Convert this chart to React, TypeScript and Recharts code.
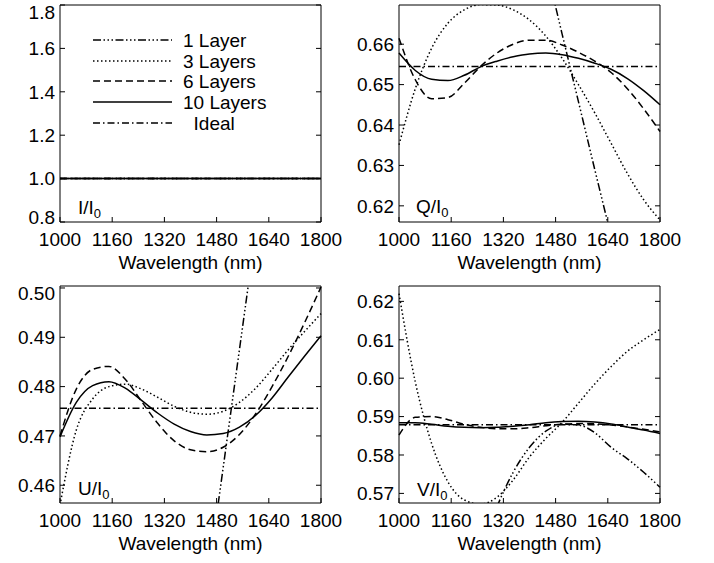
import { LineChart, Line, XAxis, YAxis } from "recharts";

// wavelength grid (nm)
const wavelengths = [1000, 1050, 1100, 1150, 1200, 1250, 1300, 1350, 1400, 1450, 1500, 1550, 1600, 1650, 1700, 1750, 1800];
const xTicks = [1000, 1160, 1320, 1480, 1640, 1800];

// I/I0 - every design sits on 1.0
const iAll = [1, 1, 1, 1, 1, 1, 1, 1, 1, 1, 1, 1, 1, 1, 1, 1, 1];
const iTicks = [0.8, 1.0, 1.2, 1.4, 1.6, 1.8];

// Q/I0
const q1 = [null, null, null, null, null, null, null, null, 0.696, 0.6795, 0.6625, 0.6458, 0.629, 0.6125, 0.596, null, null];
const q3 = [0.6351, 0.649, 0.659, 0.6652, 0.6685, 0.6698, 0.6697, 0.6685, 0.666, 0.662, 0.6565, 0.65, 0.643, 0.6355, 0.628, 0.6215, 0.6165];
const q6 = [0.6615, 0.6512, 0.6465, 0.6468, 0.6503, 0.6545, 0.6578, 0.66, 0.661, 0.661, 0.6598, 0.658, 0.6558, 0.653, 0.649, 0.644, 0.6384];
const q10 = [0.6578, 0.6535, 0.6513, 0.651, 0.6523, 0.6544, 0.6558, 0.6569, 0.6576, 0.6578, 0.6574, 0.6565, 0.6553, 0.6538, 0.6515, 0.6485, 0.645];
const qIdeal = [0.6545, 0.6545, 0.6545, 0.6545, 0.6545, 0.6545, 0.6545, 0.6545, 0.6545, 0.6545, 0.6545, 0.6545, 0.6545, 0.6545, 0.6545, 0.6545, 0.6545];
const qTicks = [0.62, 0.63, 0.64, 0.65, 0.66];

// U/I0
const u1 = [null, null, null, null, null, null, null, null, 0.4155, 0.4395, 0.4635, 0.4875, 0.5115, 0.5355, null, null, null];
const u3 = [0.456, 0.4712, 0.4775, 0.48, 0.4805, 0.4795, 0.4778, 0.476, 0.4748, 0.4744, 0.475, 0.4768, 0.4797, 0.4835, 0.4875, 0.4912, 0.4948];
const u6 = [0.47, 0.4795, 0.4835, 0.4841, 0.4815, 0.477, 0.4725, 0.469, 0.4672, 0.4668, 0.4677, 0.4703, 0.4745, 0.48, 0.4862, 0.493, 0.5002];
const u10 = [0.4698, 0.4768, 0.4802, 0.481, 0.4797, 0.4772, 0.4746, 0.4724, 0.4709, 0.4702, 0.4705, 0.4718, 0.4742, 0.4777, 0.482, 0.4862, 0.4903];
const uIdeal = [0.4756, 0.4756, 0.4756, 0.4756, 0.4756, 0.4756, 0.4756, 0.4756, 0.4756, 0.4756, 0.4756, 0.4756, 0.4756, 0.4756, 0.4756, 0.4756, 0.4756];
const uTicks = [0.46, 0.47, 0.48, 0.49, 0.5];

// V/I0
const v1 = [null, null, null, null, null, 0.5555, 0.5665, 0.5755, 0.582, 0.5862, 0.588, 0.5878, 0.5858, 0.582, 0.579, 0.5755, 0.5716];
const v3 = [0.622, 0.599, 0.583, 0.573, 0.5683, 0.5672, 0.569, 0.5735, 0.5795, 0.5843, 0.5885, 0.5935, 0.5985, 0.603, 0.607, 0.61, 0.6127];
const v6 = [0.5852, 0.5898, 0.59, 0.5892, 0.588, 0.5872, 0.5868, 0.5868, 0.5871, 0.5876, 0.588, 0.5882, 0.5881, 0.5878, 0.5873, 0.5867, 0.586];
const v10 = [0.5884, 0.5884, 0.588, 0.5875, 0.5872, 0.5871, 0.5872, 0.5875, 0.5879, 0.5884, 0.5887, 0.5888, 0.5886, 0.5881, 0.5873, 0.5865, 0.5856];
const vIdeal = [0.5879, 0.5879, 0.5879, 0.5879, 0.5879, 0.5879, 0.5879, 0.5879, 0.5879, 0.5879, 0.5879, 0.5879, 0.5879, 0.5879, 0.5879, 0.5879, 0.5879];
const vTicks = [0.57, 0.58, 0.59, 0.6, 0.61, 0.62];

const SERIES = [
  { key: "l1", name: "1 Layer", dash: "8 2.5 1.5 2.5 1.5 2.5 1.5 2.5" },
  { key: "l3", name: "3 Layers", dash: "1.5 2.5" },
  { key: "l6", name: "6 Layers", dash: "7 4" },
  { key: "l10", name: "10 Layers", dash: undefined },
  { key: "ideal", name: "  Ideal", dash: "7 3 1.5 3" },
];

function rows(l1, l3, l6, l10, ideal) {
  return wavelengths.map((w, i) => ({ w, l1: l1[i], l3: l3[i], l6: l6[i], l10: l10[i], ideal: ideal[i] }));
}

const FONT = 19;
const PLOT_TOP = 5;
const PLOT_BOTTOM = 222;
const tickStyle = { fill: "#000", fontSize: FONT };
const noTick = () => <g />;

// y labels at the box edges are pulled inside the frame, like the original
const yTick = (digits) => (props) => {
  const { x, y, payload } = props;
  const yc = Math.min(Math.max(y, PLOT_TOP + 7), PLOT_BOTTOM - 5);
  return (
    <text x={x} y={yc} dy="0.355em" textAnchor="end" fill="#000" fontSize={FONT}>
      {Number(payload.value).toFixed(digits)}
    </text>
  );
};

function Panel({ data, domain, ticks, digits, left, top }) {
  return (
    <div style={{ position: "absolute", left, top }}>
      <LineChart width={357} height={281} data={data} margin={{ top: 4, right: 35, bottom: 9, left: 10 }}>
        <XAxis
          dataKey="w"
          type="number"
          domain={[1000, 1800]}
          ticks={xTicks}
          interval={0}
          height={50}
          stroke="#000"
          tickSize={-5}
          tickMargin={16}
          tick={tickStyle}
          label={{ value: "Wavelength (nm)", position: "insideBottom", offset: 3, fill: "#000", fontSize: FONT }}
        />
        <XAxis
          xAxisId="top"
          orientation="top"
          type="number"
          domain={[1000, 1800]}
          ticks={xTicks}
          interval={0}
          height={1}
          stroke="#000"
          tickSize={-5}
          tick={noTick}
        />
        <YAxis
          type="number"
          domain={domain}
          allowDataOverflow
          ticks={ticks}
          interval={0}
          width={50}
          stroke="#000"
          tickSize={-5}
          tickMargin={10}
          tick={yTick(digits)}
        />
        <YAxis
          yAxisId="right"
          orientation="right"
          type="number"
          domain={domain}
          allowDataOverflow
          ticks={ticks}
          interval={0}
          width={1}
          stroke="#000"
          tickSize={-5}
          tick={noTick}
        />
        {SERIES.map((s) => (
          <Line
            key={s.key}
            type="monotone"
            dataKey={s.key}
            stroke="#000"
            strokeWidth={1.5}
            strokeDasharray={s.dash}
            dot={false}
            activeDot={false}
            isAnimationActive={false}
          />
        ))}
      </LineChart>
    </div>
  );
}

const legendRows = [40, 61, 81, 102, 123];

export default function App() {
  return (
    <div
      style={{
        position: "absolute",
        left: 0,
        top: 0,
        width: 714,
        height: 563,
        background: "#fff",
        fontFamily: "'Liberation Sans', Arial, sans-serif",
      }}
    >
      <Panel data={rows(iAll, iAll, iAll, iAll, iAll)} domain={[0.8, 1.8]} ticks={iTicks} digits={1} left={0} top={0} />
      <Panel data={rows(q1, q3, q6, q10, qIdeal)} domain={[0.616, 0.6697]} ticks={qTicks} digits={2} left={339} top={0} />
      <Panel data={rows(u1, u3, u6, u10, uIdeal)} domain={[0.4564, 0.5004]} ticks={uTicks} digits={2} left={0} top={281} />
      <Panel data={rows(v1, v3, v6, v10, vIdeal)} domain={[0.5675, 0.624]} ticks={vTicks} digits={2} left={339} top={281} />
      <svg width={714} height={563} style={{ position: "absolute", left: 0, top: 0, pointerEvents: "none" }}>
        {SERIES.map((s, i) => (
          <g key={s.key}>
            <line x1={93} x2={172} y1={legendRows[i]} y2={legendRows[i]} stroke="#000" strokeWidth={1.5} strokeDasharray={s.dash} />
            <text x={183} y={legendRows[i] + 7} fontSize={FONT} fill="#000" style={{ whiteSpace: "pre" }}>
              {s.name}
            </text>
          </g>
        ))}
        {[
          { t: "I/I", x: 78, y: 214 },
          { t: "Q/I", x: 416, y: 213 },
          { t: "U/I", x: 78, y: 495 },
          { t: "V/I", x: 417, y: 496 },
        ].map((l) => (
          <text key={l.t} x={l.x} y={l.y} fontSize={FONT} fill="#000">
            {l.t}
            <tspan fontSize={13} dy={4}>0</tspan>
          </text>
        ))}
      </svg>
    </div>
  );
}
